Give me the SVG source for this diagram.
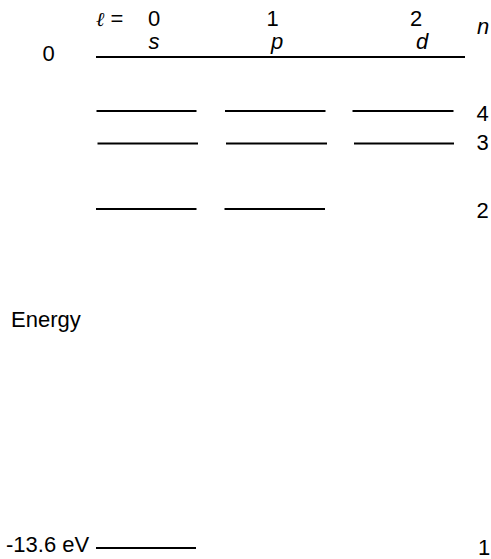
<svg xmlns="http://www.w3.org/2000/svg" width="491" height="559" viewBox="0 0 491 559">
<style>
text{font-family:"Liberation Sans",Arial,sans-serif;font-size:22px;fill:#000}
.i{font-style:italic}
.m{text-anchor:middle}
line{stroke:#000;stroke-width:1.8}
</style>
<rect width="491" height="559" fill="#fff"/>
<g id="axis-labels">
<text x="96" y="26"><tspan class="i" style="font-family:'DejaVu Serif',serif;font-size:20px">ℓ</tspan> =</text>
<text class="m" x="154" y="26">0</text>
<text class="m" x="272.5" y="26">1</text>
<text class="m" x="416" y="26">2</text>
<text class="i m" x="154" y="49">s</text>
<text class="i m" x="277" y="49">p</text>
<text class="i m" x="422" y="49">d</text>
<text class="i m" x="483" y="34">n</text>
<text class="m" x="48.5" y="61">0</text>
<text x="11" y="327">Energy</text>
<text x="6" y="552">-13.6 eV</text>
</g>
<g id="connectors">
<line x1="96" y1="57" x2="465" y2="57" style="stroke-width:2.2"/>
</g>
<g id="n4">
<line x1="96.5" y1="111" x2="196.5" y2="111"/>
<line x1="225" y1="111" x2="325.5" y2="111"/>
<line x1="352.5" y1="111" x2="453.5" y2="111"/>
<text class="m" x="482.5" y="121">4</text>
</g>
<g id="n3">
<line x1="97.5" y1="143.5" x2="198" y2="143.5"/>
<line x1="226" y1="143.5" x2="327" y2="143.5"/>
<line x1="354" y1="143.5" x2="454" y2="143.5"/>
<text class="m" x="482.5" y="150">3</text>
</g>
<g id="n2">
<line x1="96" y1="209" x2="196.5" y2="209"/>
<line x1="224.5" y1="209" x2="325" y2="209"/>
<text class="m" x="482.5" y="218">2</text>
</g>
<g id="n1">
<line x1="96" y1="548" x2="196" y2="548"/>
<text class="m" x="484" y="555">1</text>
</g>
</svg>
